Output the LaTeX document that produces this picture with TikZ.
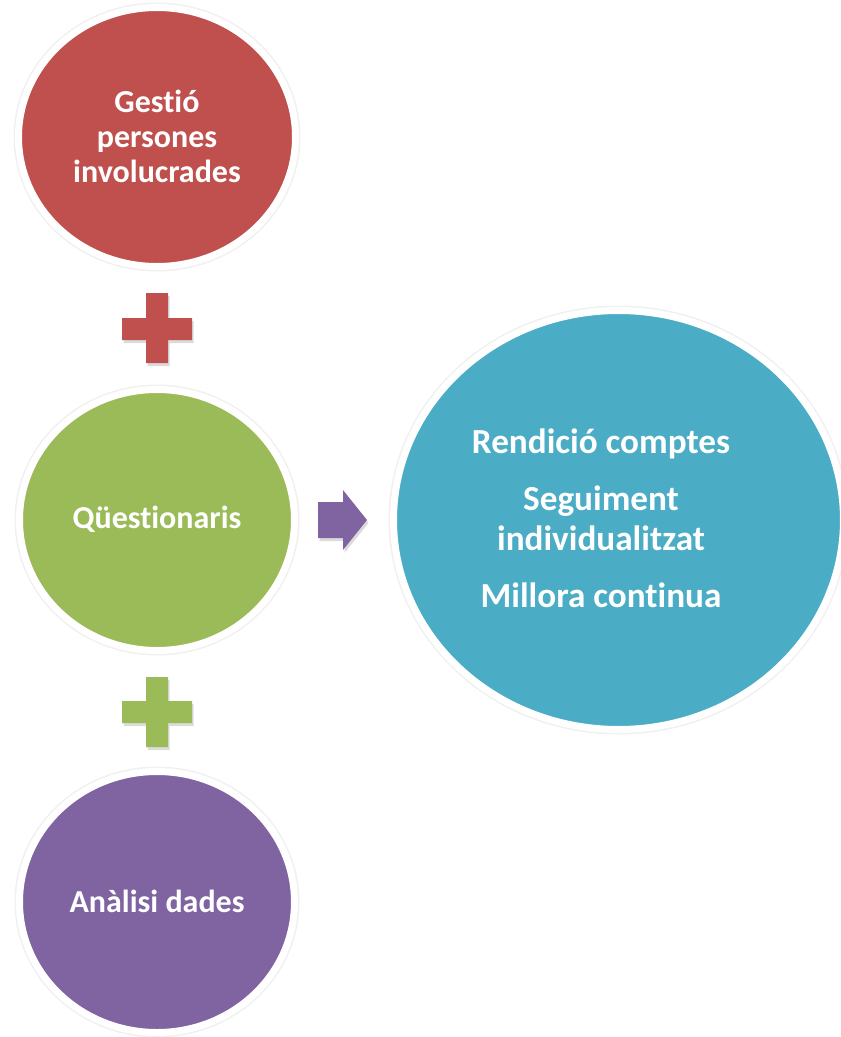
\documentclass[tikz,border=0pt]{standalone}
\usepackage{fontspec}
\setmainfont{Carlito}[RawFeature={-liga}]
\usetikzlibrary{shapes.geometric,shadows}
\definecolor{cred}{HTML}{C0504D}
\definecolor{cgreen}{HTML}{9BBB59}
\definecolor{cpurple}{HTML}{8064A2}
\definecolor{cblue}{HTML}{4BACC6}
\tikzset{
  bubble/.style={ellipse, draw=white, line width=7pt, inner sep=0pt,
    drop shadow={shadow xshift=0.5pt, shadow yshift=-3pt, opacity=0.2, fill=black!70}},
  halo/.style={ellipse, draw=black!6, line width=2pt, inner sep=0pt},
  lbl/.style={text=white, font=\bfseries\fontsize{32}{35}\selectfont, anchor=base, inner sep=0pt},
  biglbl/.style={lbl, font=\bfseries\fontsize{35.2}{40}\selectfont},
  shade/.style={fill=black!70, opacity=0.2},
}
\begin{document}
\begin{tikzpicture}[x=1pt,y=-1pt]
\useasboundingbox (0,0) rectangle (841,1037);
% faint outer halos
\node[halo, minimum width=285pt, minimum height=267pt] (redh) at (157,137) {};
\node[halo, minimum width=283pt, minimum height=269pt] (greenh) at (157,520) {};
\node[halo, minimum width=283pt, minimum height=269pt] (purpleh) at (157,902) {};
\node[halo, minimum width=458pt, minimum height=427pt] (blueh) at (618.5,520) {};
% circles
\node[bubble, fill=cred, minimum width=277pt, minimum height=259pt] (red) at (157,137) {};
\node[bubble, fill=cgreen, minimum width=275pt, minimum height=261pt] (green) at (157,520) {};
\node[bubble, fill=cpurple, minimum width=275pt, minimum height=261pt] (purple) at (157,902) {};
\node[bubble, fill=cblue, minimum width=450pt, minimum height=419pt] (blue) at (618.5,520) {};
% plus signs
\fill[shade] (147.5,296) -- (169.5,296) -- (169.5,321) -- (193.5,321) -- (193.5,343) -- (169.5,343) -- (169.5,366) -- (147.5,366) -- (147.5,343) -- (123.5,343) -- (123.5,321) -- (147.5,321) -- cycle;
\fill[cred] (146,293) -- (168,293) -- (168,318) -- (192,318) -- (192,340) -- (168,340) -- (168,363) -- (146,363) -- (146,340) -- (122,340) -- (122,318) -- (146,318) -- cycle;
\fill[shade] (147.5,680) -- (169.5,680) -- (169.5,704) -- (193.5,704) -- (193.5,726) -- (169.5,726) -- (169.5,750) -- (147.5,750) -- (147.5,726) -- (123.5,726) -- (123.5,704) -- (147.5,704) -- cycle;
\fill[cgreen] (146,677) -- (168,677) -- (168,701) -- (192,701) -- (192,723) -- (168,723) -- (168,747) -- (146,747) -- (146,723) -- (122,723) -- (122,701) -- (146,701) -- cycle;
% arrow
\fill[shade] (319.5,505) -- (344.5,505) -- (344.5,493) -- (368.5,523) -- (344.5,553) -- (344.5,541) -- (319.5,541) -- cycle;
\fill[cpurple] (318,502) -- (343,502) -- (343,490) -- (367,520) -- (343,550) -- (343,538) -- (318,538) -- cycle;
% labels
\node[lbl] (t1) at (157,112) {Gestió};
\node[lbl] (t2) at (157,147) {persones};
\node[lbl] (t3) at (157,182) {involucrades};
\node[lbl] (t4) at (157,528) {Qüestionaris};
\node[lbl] (t5) at (157,912) {Anàlisi dades};
\node[biglbl] (b1) at (601,453) {Rendició comptes};
\node[biglbl] (b2) at (601,510) {Seguiment};
\node[biglbl] (b3) at (601,550) {individualitzat};
\node[biglbl] (b4) at (601,607) {Millora continua};
\end{tikzpicture}
\end{document}
